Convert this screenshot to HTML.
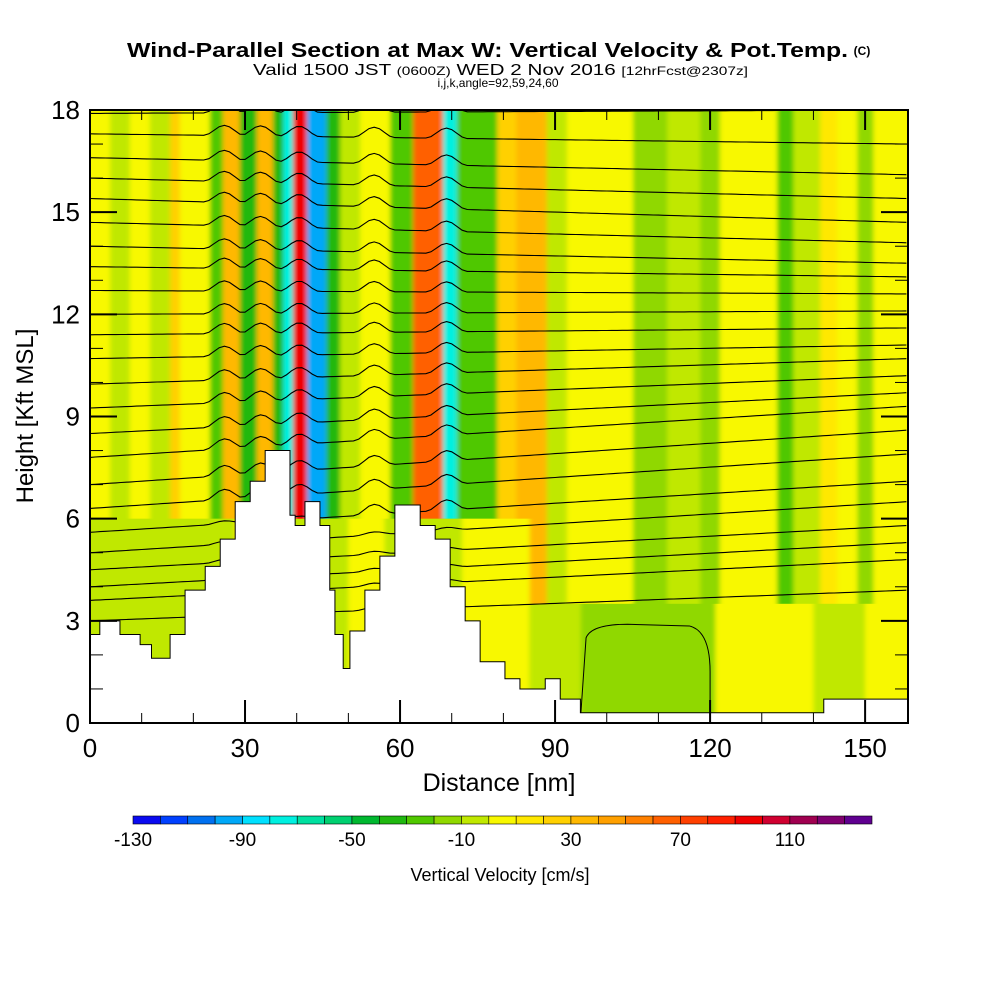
<!DOCTYPE html>
<html><head><meta charset="utf-8"><style>
body{margin:0;background:#fff;width:1000px;height:1000px;overflow:hidden;font-family:"Liberation Sans",sans-serif}
svg text{font-family:"Liberation Sans",sans-serif}
</style></head><body>
<svg id="chart" width="1000" height="1000" viewBox="0 0 1000 1000">
<defs>
<clipPath id="plotclip"><rect x="90" y="110" width="818" height="613"/></clipPath>
<filter id="blurx" x="-5%" y="0" width="110%" height="100%"><feGaussianBlur stdDeviation="2.5 0"/></filter>
</defs>
<text x="127" y="57" textLength="721" lengthAdjust="spacingAndGlyphs" font-size="20" font-weight="bold">Wind-Parallel Section at Max W: Vertical Velocity &amp; Pot.Temp.</text>
<text x="862" y="55" text-anchor="middle" font-size="12" font-weight="bold">(C)</text>
<text x="253" y="75" textLength="495" lengthAdjust="spacingAndGlyphs" font-size="16">Valid 1500 JST <tspan font-size="12">(0600Z)</tspan> WED 2 Nov 2016 <tspan font-size="12">[12hrFcst@2307z]</tspan></text>
<text x="498" y="87" text-anchor="middle" font-size="12">i,j,k,angle=92,59,24,60</text>
<g id="field" clip-path="url(#plotclip)"></g>
<g id="contours" clip-path="url(#plotclip)"></g>
<g id="terrain"></g>
<rect x="90" y="110" width="818" height="613" fill="none" stroke="#000" stroke-width="2"/>
<g id="axes"></g>
<text x="499" y="791" text-anchor="middle" font-size="25">Distance [nm]</text>
<text transform="translate(33,416) rotate(-90)" text-anchor="middle" font-size="24">Height [Kft MSL]</text>
<g id="colorbar"></g>
<text x="500" y="881" text-anchor="middle" font-size="18">Vertical Velocity [cm/s]</text>
</svg>
<script>
const NS="http://www.w3.org/2000/svg";
// data
const upperStart=[0,3.9,7.7,11.6,15.5,17.4,23.2,25.7,29.0,32.3,35.4,37.4,39.3,42.0,45.7,48.4,52.3,58.1,62.5,68.3,71.0,78.8,82.5,88.4,92.3,105.1,111.7,118.1,121.9,133.0,136.1,141.3,144.6,148.5,151.6];
const upperValue=[5,-5,5,-5,25,5,-25,35,-35,35,-35,-75,95,-95,-35,-5,5,-25,65,-75,-25,25,35,-5,5,-15,-5,-15,5,-25,-5,15,5,-15,5];
const lowerStart=[0,28,31,50,57,72,85,95,121,140,150];
const lowerValue=[-5,15,-5,5,-5,5,-5,-15,5,-5,5];
const lowerTopNm=[0,85];
const lowerTopKft=[6,3.5];
const terrainNm=[0,1.9,5.8,9.7,11.9,15.5,18.4,22.3,25.2,28.1,31.0,33.9,38.7,39.7,41.6,44.5,46.4,47.4,49.0,50.3,53.2,56.1,59.0,63.9,66.8,69.7,72.6,75.5,80.3,83.2,88.1,91.0,94.9,142];
const terrainKft=[2.6,3.0,2.6,2.3,1.9,2.6,3.9,4.6,5.4,6.5,7.1,8.0,6.1,5.8,6.5,5.8,3.9,2.6,1.6,2.7,3.9,4.9,6.4,5.8,5.4,4.0,3.0,1.8,1.3,1.0,1.3,0.7,0.3,0.7];
const thetaLeft=[17.9,17.3,16.6,16.0,15.4,14.7,14.0,13.4,12.7,12.0,11.4,10.7,9.95,9.25,8.5,7.8,7.0,6.3,5.6,5.0,4.5,4.0,3.6,3.0];
const thetaRight=[18.0,17.0,16.1,15.4,14.7,14.1,13.5,13.1,12.6,12.1,11.6,11.1,10.7,10.2,9.7,9.3,8.6,7.9,7.1,6.5,5.8,5.3,4.8,3.9];
const wavePeaks=[26,33,40.5,55,69];
const xTicks=[0,30,60,90,120,150];
const yTicks=[0,3,6,9,12,15,18];
const cbLabels=[-130,-90,-50,-10,30,70,110];
const palette=["#0a0af0","#0040ff","#0070f0","#00a8f8","#00e0ff","#00f0e0","#00e0a0","#00d070","#00b830","#20b810","#50c800","#90d800","#c0e800","#f8f800","#ffe800","#ffd000","#ffb800","#ffa000","#ff8000","#ff6000","#ff4000","#ff2000","#f00000","#d00030","#a00050","#800070","#600090"];
const XMAX=158.3;
const X=v=>90+v*(818/XMAX), Y=v=>723-v*(613/18);
const col=v=>palette[Math.max(0,Math.min(26,Math.floor((v+130)/10)))];
function mk(tag,attrs,parent){const e=document.createElementNS(NS,tag);for(const k in attrs)e.setAttribute(k,attrs[k]);parent.appendChild(e);return e;}
const field=document.getElementById('field');
const fg=mk('g',{filter:'url(#blurx)'},field);
upperStart.forEach((s,i)=>{const e=i+1<upperStart.length?upperStart[i+1]:XMAX+3;
 const r=mk('rect',{x:X(s)-(i==0?5:0),y:Y(18)-2,width:X(e)-X(s)+(i==0?5:0)+0.5,height:Y(0)-Y(18)+4,fill:col(upperValue[i])},fg);
 
 });
lowerStart.forEach((s,i)=>{const e=i+1<lowerStart.length?lowerStart[i+1]:XMAX+3;
 const top=s>=lowerTopNm[1]?lowerTopKft[1]:lowerTopKft[0];
 const r=mk('rect',{x:X(s)-(i==0?5:0),y:Y(top),width:X(e)-X(s)+(i==0?5:0)+0.5,height:Y(0)-Y(top)+4,fill:col(lowerValue[i])},fg);
 
 });
// contours
const cg=document.getElementById('contours');
thetaLeft.forEach((l,i)=>{const r=thetaRight[i];let d='';
 for(let n=0;n<=XMAX;n+=1){let h=l+(r-l)*n/XMAX;
  wavePeaks.forEach(p=>{const dd=Math.abs(n-p);if(dd<4)h+=0.3*(0.5+0.5*Math.cos(Math.PI*dd/4))*(h>6?1:0.3);});
  d+=(n==0?'M':'L')+X(n).toFixed(1)+','+Y(h).toFixed(1);}
 const p=mk('path',{d:d,fill:'none',stroke:'#000','stroke-width':1.1},cg);
 
 });
const blob=mk('path',{d:`M${X(95)},${Y(0.3)} L${X(96)},${Y(2.5)} Q${X(97)},${Y(2.9)} ${X(104)},${Y(2.9)} L${X(116)},${Y(2.85)} Q${X(120)},${Y(2.7)} ${X(120)},${Y(1.5)} L${X(120)},${Y(0.3)}`,fill:'none',stroke:'#000','stroke-width':1},cg);


// terrain
let td=`M${X(0)},${Y(0)}`;
terrainNm.forEach((s,i)=>{const e=i+1<terrainNm.length?terrainNm[i+1]:XMAX;td+=` L${X(s)},${Y(terrainKft[i])} L${X(e)},${Y(terrainKft[i])}`;});
td+=` L${X(XMAX)},${Y(0)} Z`;
mk('path',{d:td,fill:'#fff',stroke:'#000','stroke-width':1},document.getElementById('terrain'));
// axes
const ax=document.getElementById('axes');
for(let n=0;n<=150;n+=10){const big=n%30==0;
 mk('line',{x1:X(n),x2:X(n),y1:723,y2:big?700:713,stroke:'#000','stroke-width':big?2:1},ax);
 mk('line',{x1:X(n),x2:X(n),y1:110,y2:big?130:120,stroke:'#000','stroke-width':big?2:1},ax);}
for(let k=0;k<=18;k++){const big=k%3==0;
 mk('line',{x1:90,x2:big?117:103,y1:Y(k),y2:Y(k),stroke:'#000','stroke-width':big?2:1},ax);
 mk('line',{x1:908,x2:big?881:895,y1:Y(k),y2:Y(k),stroke:'#000','stroke-width':big?2:1},ax);}
xTicks.forEach(v=>{const t=mk('text',{x:X(v),y:757,'text-anchor':'middle','font-size':26},ax);t.textContent=v;
 
 });
yTicks.forEach(v=>{const t=mk('text',{x:80,y:Y(v)+9,'text-anchor':'end','font-size':26},ax);t.textContent=v;
 
 });
// colorbar
const cb=document.getElementById('colorbar');const cw=739/27;
palette.forEach((c,i)=>{const r=mk('rect',{x:133+i*cw,y:816,width:cw,height:8,fill:c,stroke:'#000','stroke-width':0.6},cb);
 
 });
cbLabels.forEach(v=>{const t=mk('text',{x:133+(v+130)/10*cw,y:846,'text-anchor':'middle','font-size':19},cb);t.textContent=v;
 
 });
</script>
</body></html>
